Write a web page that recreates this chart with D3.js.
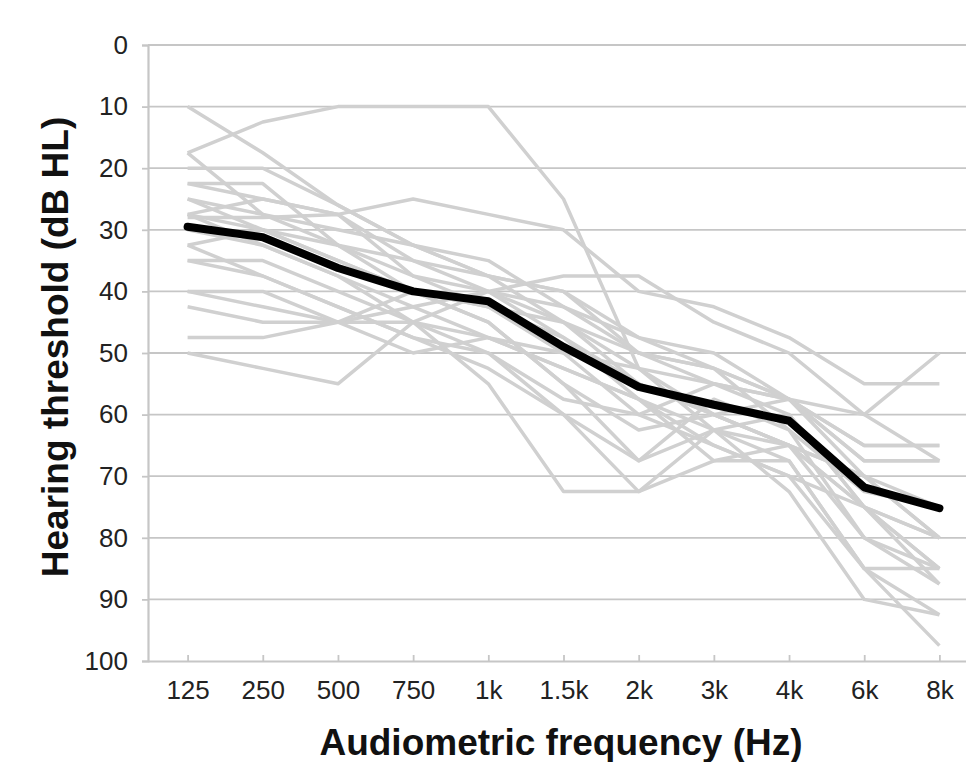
<!DOCTYPE html>
<html>
<head>
<meta charset="utf-8">
<script src="https://cdn.jsdelivr.net/npm/d3@7"></script>
<style>
  html, body { margin: 0; padding: 0; background: #fff; }
  svg { display: block; }
</style>
</head>
<body>
<svg id="chart" width="966" height="762"></svg>
<script>
// ---- data ----
const frequencies = ["125", "250", "500", "750", "1k", "1.5k", "2k", "3k", "4k", "6k", "8k"];
const yTicks = [0, 10, 20, 30, 40, 50, 60, 70, 80, 90, 100];

const meanThreshold = [29.5, 31.2, 36.2, 40, 41.6, 49, 55.5, 58.4, 61, 71.8, 75.2];

const s01 = [10, 17.5, 26, 32.5, 37.5, 45, 52.5, 60, 65, 80, 87.5];
const s02 = [17.5, 12.5, 10, 10, 10, 25, 52.5, 62.5, 67.5, 85, 92.5];
const s03 = [17.5, 27.5, 32.5, 40, 45, 55, 67.5, 62.5, 60, 75, 80];
const s04 = [20, 20, 26, 32.5, 35, 42.5, 50, 55, 57.5, 60, 50];
const s05 = [22.5, 22.5, 32.5, 35, 40, 47.5, 55, 60, 65, 75, 85];
const s06 = [25, 27.5, 30, 32.5, 37.5, 40, 47.5, 52.5, 57.5, 70, 80];
const s07 = [27.5, 25, 27.5, 25, 27.5, 30, 40, 42.5, 47.5, 55, 55];
const s08 = [28, 28, 27.5, 37.5, 42.5, 50, 60, 65, 70, 85, 97.5];
const s09 = [27.5, 30, 35, 40, 45, 55, 62.5, 60, 57.5, 65, 65];
const s10 = [30, 32.5, 37.5, 42.5, 47.5, 52.5, 57.5, 62.5, 72.5, 90, 92.5];
const s11 = [32.5, 30, 32.5, 37.5, 40, 37.5, 37.5, 45, 50, 60, 67.5];
const s12 = [35, 35, 40, 45, 50, 57.5, 60, 55, 57.5, 67.5, 67.5];
const s13 = [35, 37.5, 42.5, 47.5, 52.5, 60, 67.5, 57.5, 62.5, 80, 85];
const s14 = [40, 42.5, 45, 42.5, 40, 42.5, 47.5, 50, 57.5, 65, 65];
const s15 = [42.5, 45, 45, 45, 47.5, 52.5, 57.5, 65, 70, 75, 87.5];
const s16 = [47.5, 47.5, 45, 40, 42.5, 47.5, 57.5, 67.5, 67.5, 85, 85];
const s17 = [50, 52.5, 55, 45, 40, 45, 50, 52.5, 62.5, 72.5, 75];
const s18 = [27.5, 32.5, 37.5, 45, 55, 72.5, 72.5, 62.5, 65, 70, 80];
const s19 = [32.5, 37.5, 42.5, 47.5, 50, 60, 72.5, 67.5, 65, 70, 75];
const s20 = [25, 30, 35, 40, 42.5, 45, 55, 60, 65, 75, 85];
const s21 = [22.5, 25, 27.5, 35, 37.5, 40, 50, 52.5, 57.5, 67.5, 67.5];
const s22 = [40, 40, 45, 50, 47.5, 50, 52.5, 55, 60, 75, 80];
const individuals = [s01, s02, s03, s04, s05, s06, s07, s08, s09, s10, s11,
                     s12, s13, s14, s15, s16, s17, s18, s19, s20, s21, s22];

// ---- layout ----
const svg = d3.select("#chart");
const plotLeft = 148, plotRight = 977, plotTop = 45, plotBottom = 661;

const x = d3.scalePoint().domain(frequencies).range([plotLeft + 2, plotRight]).padding(0.5);
const y = d3.scaleLinear().domain([0, 100]).range([plotTop, plotBottom]);

const gridColor = "#c6c6c6";

// gridlines
svg.append("g").selectAll("line").data(yTicks.slice(0, -1)).join("line")
  .attr("x1", plotLeft).attr("x2", 966)
  .attr("y1", d => y(d)).attr("y2", d => y(d))
  .attr("stroke", gridColor).attr("stroke-width", 1.8);

// y axis
const yAxis = d3.axisLeft(y).tickValues(yTicks).tickSize(6).tickPadding(14);
const gy = svg.append("g").attr("transform", `translate(${plotLeft},0)`).call(yAxis);
gy.select(".domain").attr("stroke", gridColor).attr("stroke-width", 2.2);
gy.selectAll(".tick line").attr("stroke", gridColor).attr("stroke-width", 1.8);
gy.selectAll(".tick text")
  .attr("font-family", "Liberation Sans, Arial, sans-serif")
  .attr("font-size", 26).attr("fill", "#222");

// x axis
const xAxis = d3.axisBottom(x).tickSize(-6).tickPadding(20);
const gx = svg.append("g").attr("transform", `translate(0,${plotBottom})`).call(xAxis);
gx.select(".domain").attr("d", `M${plotLeft},0.5H966`).attr("stroke", gridColor).attr("stroke-width", 2.2);
gx.selectAll(".tick line").attr("stroke", gridColor).attr("stroke-width", 1.8);
gx.selectAll(".tick text")
  .attr("font-family", "Liberation Sans, Arial, sans-serif")
  .attr("font-size", 26).attr("fill", "#222");

// lines
const line = d3.line().x((d, i) => x(frequencies[i])).y(d => y(d));

svg.append("g").selectAll("path").data(individuals).join("path")
  .attr("d", line)
  .attr("fill", "none")
  .attr("stroke", "#d0d0d0")
  .attr("stroke-width", 3.5)
  .attr("stroke-linejoin", "round");

svg.append("path").datum(meanThreshold)
  .attr("d", line)
  .attr("fill", "none")
  .attr("stroke", "#000")
  .attr("stroke-width", 8)
  .attr("stroke-linejoin", "round")
  .attr("stroke-linecap", "round");

// titles
svg.append("text")
  .attr("x", 561).attr("y", 755)
  .attr("text-anchor", "middle")
  .attr("font-family", "Liberation Sans, Arial, sans-serif")
  .attr("font-weight", "bold").attr("font-size", 37)
  .attr("fill", "#111")
  .text("Audiometric frequency (Hz)");

svg.append("text")
  .attr("transform", "translate(68,347) rotate(-90)")
  .attr("text-anchor", "middle")
  .attr("font-family", "Liberation Sans, Arial, sans-serif")
  .attr("font-weight", "bold").attr("font-size", 37)
  .attr("fill", "#111")
  .text("Hearing threshold (dB HL)");
</script>
</body>
</html>
